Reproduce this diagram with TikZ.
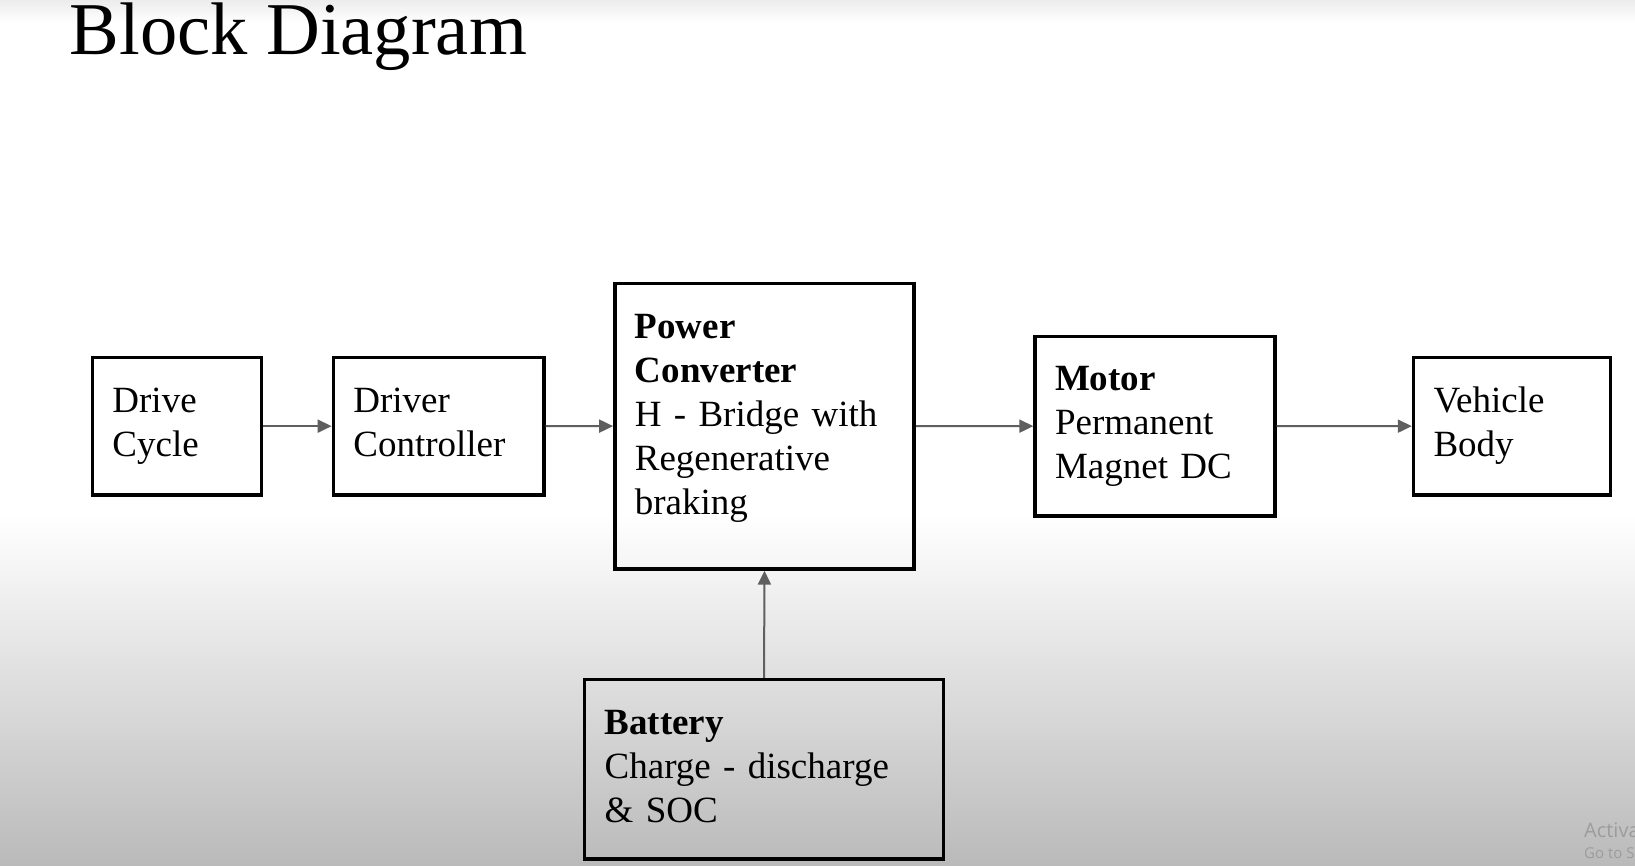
\documentclass[tikz,border=0pt]{standalone}
\usepackage{fontspec}
\setmainfont{Liberation Serif}
\newfontfamily\wmfont{Open Sans}
\usetikzlibrary{arrows.meta}

\definecolor{arrowgray}{RGB}{95,95,95}
\definecolor{shadegray}{RGB}{186,186,186}
\definecolor{topgray}{RGB}{236,236,236}
\definecolor{wmgray}{RGB}{156,156,156}

\begin{document}
\begin{tikzpicture}[x=1pt, y=-1pt,
  block/.style={draw=black, line width=3.5pt, rectangle, anchor=north west,
    inner xsep=20pt, inner ysep=0pt, align=left,
    font=\fontsize{37}{44}\selectfont},
  link/.style={draw=arrowgray, line width=2pt,
    -{Triangle[length=14pt, width=13pt]}},
  wmark/.style={anchor=base west, inner sep=0pt, text=wmgray}]

  % page and background shading
  \useasboundingbox (0,0) rectangle (1635,865);
  \fill[white] (0,0) rectangle (1635,865);
  \shade[top color=topgray, bottom color=white] (0,0) rectangle (1635,22);
  \shade[top color=white, bottom color=shadegray] (0,515) rectangle (1635,865);

  % heading
  \node[anchor=base west, inner sep=0pt, font=\fontsize{74.5}{80}\selectfont]
    (title) at (69.5,54) {Block Diagram};

  % blocks
  \node[block, minimum width=169pt, minimum height=137.6pt, text width=129pt]
    (drive) at (90.7,355.6) {\strut Drive\\Cycle\strut};
  \node[block, minimum width=210.6pt, minimum height=137.6pt, text width=170.6pt]
    (driver) at (331.6,355.6) {\strut Driver\\Controller\strut};
  \node[block, minimum width=299.3pt, minimum height=285.7pt, text width=259.3pt]
    (power) at (613.1,281.5)
    {\strut\textbf{Power}\\\textbf{Converter}\\H - Bridge with\\Regenerative\\braking\rule[-30pt]{0pt}{30pt}};
  \node[block, minimum width=239.8pt, minimum height=179.4pt, text width=199.8pt]
    (motor) at (1033.3,334.7) {\strut\textbf{Motor}\\Permanent\\Magnet DC\strut};
  \node[block, minimum width=197.1pt, minimum height=137.6pt, text width=157.1pt]
    (vehicle) at (1411.8,355.6) {\strut Vehicle\\Body\strut};
  \node[block, minimum width=358.7pt, minimum height=179.3pt, text width=318.7pt]
    (battery) at (582.9,677.8) {\strut\textbf{Battery}\\Charge - discharge\\\& SOC\strut};

  % signal flow
  \draw[link] (drive.east) -- (driver.west);
  \draw[link] (driver.east) -- (power.west);
  \draw[link] (power.east) -- (motor.west);
  \draw[link] (motor.east) -- (vehicle.west);
  \draw[link] (battery.north) -- (power.south);

  % system watermark, cut off at the right edge
  \begin{scope}
    \clip (0,0) rectangle (1635,865);
    \node[wmark, font=\wmfont\fontsize{20}{24}\selectfont]
      (wmone) at (1584,837) {Activate Windows};
    \node[wmark, font=\wmfont\fontsize{15}{18}\selectfont]
      (wmtwo) at (1584,858) {Go to Settings to activate Windows.};
  \end{scope}
\end{tikzpicture}
\end{document}
